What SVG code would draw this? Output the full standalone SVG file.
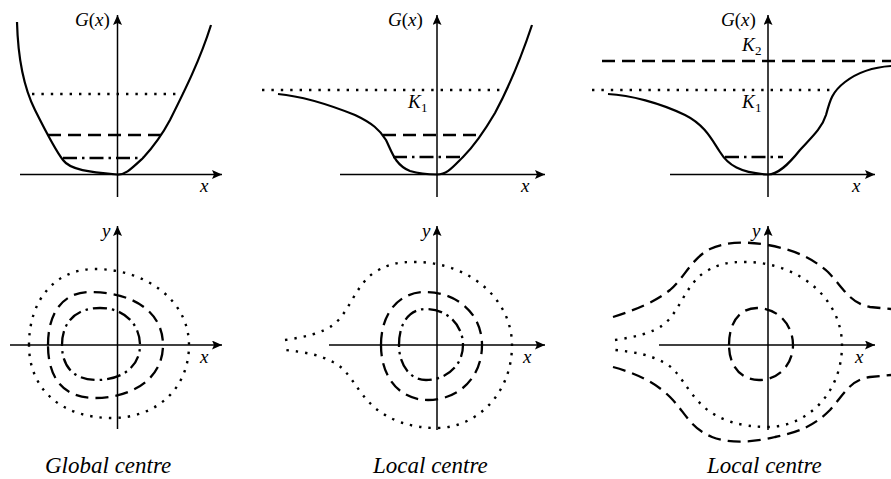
<svg xmlns="http://www.w3.org/2000/svg" width="891" height="479" viewBox="0 0 891 479">
<style>
.ax{stroke:#000;stroke-width:1.5;fill:none}
.cv{stroke:#000;stroke-width:2.2;fill:none;stroke-linejoin:round}
.da{stroke:#000;stroke-width:2.3;fill:none;stroke-dasharray:13 7}
.dt{stroke:#000;stroke-width:2.4;fill:none;stroke-dasharray:2.4 7}
.dd{stroke:#000;stroke-width:2.3;fill:none;stroke-dasharray:14 5 2.5 5}
text{font-family:'Liberation Serif','Times New Roman','DejaVu Serif',serif;fill:#000}
.m{font-size:19px}
.i{font-style:italic}
.sub{font-size:13px}
.cap{font-style:italic;font-size:23px}
</style>
<defs>
<marker id="ar" markerUnits="userSpaceOnUse" markerWidth="12" markerHeight="10" refX="10" refY="4.5" orient="auto">
<path d="M0,0 L10,4.5 L0,9 L2,4.5 Z" fill="#000"/>
</marker>
</defs>

<g id="connectors">
<line class="ax" x1="117.5" y1="197" x2="117.5" y2="15" marker-end="url(#ar)"/>
<line class="ax" x1="20" y1="174.5" x2="222" y2="174.5" marker-end="url(#ar)"/>
<line class="ax" x1="437" y1="197" x2="437" y2="15" marker-end="url(#ar)"/>
<line class="ax" x1="340" y1="174.5" x2="545" y2="174.5" marker-end="url(#ar)"/>
<line class="ax" x1="768" y1="197" x2="768" y2="15" marker-end="url(#ar)"/>
<line class="ax" x1="670" y1="174.5" x2="875" y2="174.5" marker-end="url(#ar)"/>
<line class="ax" x1="117.5" y1="429" x2="117.5" y2="226" marker-end="url(#ar)"/>
<line class="ax" x1="10" y1="345" x2="222" y2="345" marker-end="url(#ar)"/>
<line class="ax" x1="437" y1="430" x2="437" y2="226" marker-end="url(#ar)"/>
<line class="ax" x1="329" y1="345" x2="545" y2="345" marker-end="url(#ar)"/>
<line class="ax" x1="768" y1="430" x2="768" y2="226" marker-end="url(#ar)"/>
<line class="ax" x1="659" y1="345" x2="875" y2="345" marker-end="url(#ar)"/>
</g>

<g id="panel-global-potential">
<path class="cv" d="M17,22 C18,60 25,90 35,110 C45,130 55,150 63,160 C70,170 90,172 117,174.5 C125,175 130,170 143,158 C155,145 162,135 170,120 C185,90 200,60 211,25"/>
<line class="dt" x1="32" y1="94" x2="183" y2="94"/>
<line class="da" x1="48" y1="135" x2="163" y2="135"/>
<line class="dd" x1="63" y1="158" x2="143" y2="158"/>
<text class="m" x="75" y="26"><tspan class="i">G</tspan>(<tspan class="i">x</tspan>)</text>
<text class="m i" x="200" y="192">x</text>
</g>

<g id="panel-local-potential">
<path class="cv" d="M278,94 C300,96 330,105 355,115 C372,123 380,130 386,140 C392,152 395,165 410,171 C420,174 430,174.5 437,174.5 C447,174.5 452,168 463,157 C475,145 485,130 495,113 C510,85 522,55 532,25"/>
<line class="dt" x1="262" y1="90" x2="505" y2="90"/>
<line class="da" x1="383" y1="135" x2="483" y2="135"/>
<line class="dd" x1="393" y1="157" x2="463" y2="157"/>
<text class="m" x="388" y="26"><tspan class="i">G</tspan>(<tspan class="i">x</tspan>)</text>
<text class="m i" x="408" y="108">K</text><text class="sub" x="421" y="112">1</text>
<text class="m i" x="521" y="192">x</text>
</g>

<g id="panel-local2-potential">
<path class="cv" d="M608,94 C630,95 660,103 685,115 C705,125 712,140 720,152 C728,165 740,173 768,174.5 C778,174.5 788,165 800,150 C812,137 822,128 826,115 C830,100 832,92 845,82 C858,72 875,67 891,66"/>
<line class="da" x1="602" y1="61" x2="891" y2="61"/>
<line class="dt" x1="592" y1="90" x2="833" y2="90"/>
<line class="dd" x1="725" y1="157" x2="783" y2="157"/>
<text class="m" x="721" y="26"><tspan class="i">G</tspan>(<tspan class="i">x</tspan>)</text>
<text class="m i" x="742" y="51">K</text><text class="sub" x="755" y="55">2</text>
<text class="m i" x="742" y="108">K</text><text class="sub" x="755" y="112">1</text>
<text class="m i" x="852" y="192">x</text>
</g>

<g id="panel-global-contours">
<path class="dt" d="M29,345 C29,300 55,269 95,269 C145,269 189,300 189,345 C189,390 155,418 112,418 C62,418 29,390 29,345 Z"/>
<path class="da" d="M48,345 C48,310 65,292 90,292 C130,292 163,310 163,345 C163,380 130,398 95,398 C65,398 48,380 48,345 Z"/>
<path class="dd" d="M62,345 C62,320 78,308 100,308 C125,308 140,325 140,345 C140,368 120,380 97,380 C75,380 62,368 62,345 Z"/>
<text class="m i" x="102" y="237">y</text>
<text class="m i" x="200" y="363">x</text>
<text class="cap" x="45" y="473">Global centre</text>
</g>

<g id="panel-local-contours">
<path class="dt" d="M285,340 C305,337 322,333 333,325 C350,312 355,285 375,272 C390,263 400,262 415,262 C470,262 512,300 512,345 C512,395 475,428 437,428 C410,428 390,420 375,408 C355,390 350,370 333,362 C320,355 305,352 285,350"/>
<path class="da" d="M381,345 C381,312 400,292 425,292 C455,292 482,312 482,345 C482,378 458,400 428,400 C400,400 381,378 381,345 Z"/>
<path class="dd" d="M399,345 C399,322 410,309 426,309 C447,309 463,325 463,345 C463,365 447,380 426,380 C410,380 399,365 399,345 Z"/>
<text class="m i" x="422" y="237">y</text>
<text class="m i" x="523" y="363">x</text>
<text class="cap" x="373" y="473">Local centre</text>
</g>

<g id="panel-local2-contours">
<path class="da" d="M613,317 C635,310 655,302 670,290 C685,277 692,258 710,249 C725,242 745,241 768,245 C795,250 812,258 828,272 C845,290 850,303 870,307 L891,309"/>
<path class="da" d="M613,367 C635,373 655,382 670,397 C685,412 690,428 712,437 C730,444 755,442 775,437 C800,432 815,425 830,410 C845,393 850,380 870,377 L891,375"/>
<path class="dt" d="M615,340 C635,337 652,333 663,325 C680,312 685,285 705,272 C720,263 730,262 745,262 C800,262 842,300 842,345 C842,395 805,427 768,427 C740,427 720,420 705,408 C685,390 680,370 663,362 C650,355 635,352 615,350"/>
<path class="da" d="M729,345 C729,322 740,308 757,308 C778,308 793,325 793,345 C793,365 778,380 759,380 C740,380 729,365 729,345 Z"/>
<text class="m i" x="752" y="237">y</text>
<text class="m i" x="855" y="363">x</text>
<text class="cap" x="707" y="473">Local centre</text>
</g>
</svg>
